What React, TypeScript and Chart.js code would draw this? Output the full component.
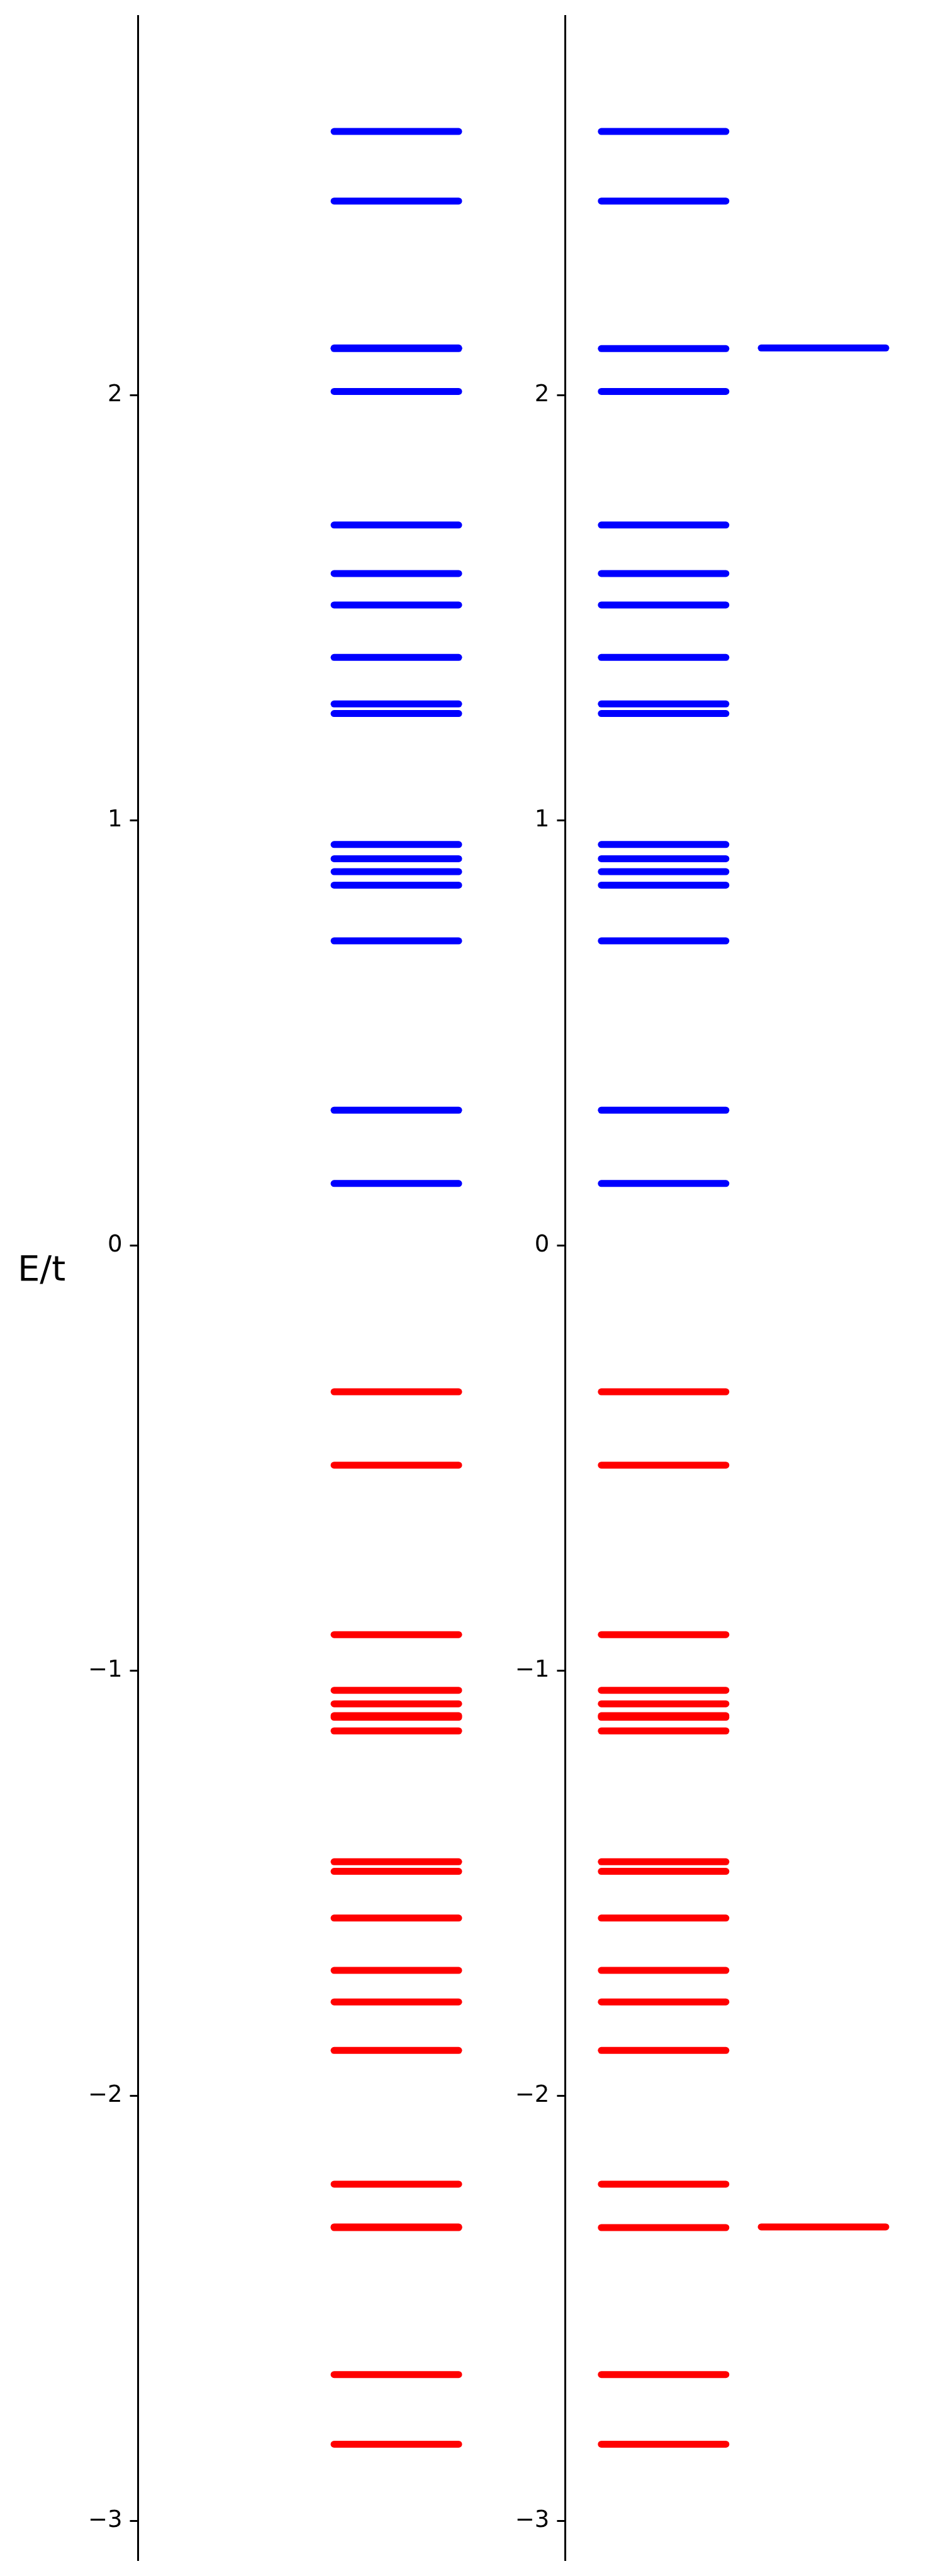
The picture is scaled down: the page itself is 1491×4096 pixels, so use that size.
import { useEffect, useRef } from "react";
import { Chart, registerables } from "chart.js";

Chart.register(...registerables);

// ---- Data: energy levels in units of t ----
// Left panel: full spectrum (upper levels blue, lower levels red)
const leftUpperLevels = [
  2.6198, 2.4562, 2.1106, 2.109, 2.0083, 1.6941, 1.58, 1.5061, 1.3827, 1.2733,
  1.2508, 0.9427, 0.9092, 0.8787, 0.8471, 0.716, 0.3178, 0.1453,
];
const leftLowerLevels = [
  -0.3446, -0.5171, -0.9158, -1.0466, -1.0785, -1.1064, -1.11, -1.1422, -1.45,
  -1.4726, -1.5823, -1.7055, -1.7797, -1.8937, -2.2082, -2.3089, -2.3104,
  -2.6561, -2.8199,
];
// Right panel, main column
const rightMainUpperLevels = [
  2.6198, 2.4562, 2.109, 2.0083, 1.6941, 1.58, 1.5061, 1.3827, 1.2733, 1.2508,
  0.9427, 0.9092, 0.8787, 0.8471, 0.716, 0.3178, 0.1453,
];
const rightMainLowerLevels = [
  -0.3446, -0.5171, -0.9158, -1.0466, -1.0785, -1.1064, -1.11, -1.1422, -1.45,
  -1.4726, -1.5823, -1.7055, -1.7797, -1.8937, -2.2082, -2.3104, -2.6561,
  -2.8199,
];
// Right panel, side column
const rightSideUpperLevels = [2.1106];
const rightSideLowerLevels = [-2.3089];

// Column positions (x categories) and ticks
const leftColumns = [2.1];
const rightColumns = [0.8, 2.1];
const xRange = [0, 3];
const yTickValues = [-3, -2, -1, 0, 1, 2];
const yAxisLabel = "E/t";

const UPPER_COLOR = "#0000ff";
const LOWER_COLOR = "#ff0000";
const FONT = "'DejaVu Sans', 'Liberation Sans', sans-serif";

const allLevels = [
  ...leftUpperLevels,
  ...leftLowerLevels,
  ...rightMainUpperLevels,
  ...rightMainLowerLevels,
  ...rightSideUpperLevels,
  ...rightSideLowerLevels,
];
const dataMax = Math.max(...allLevels);
const dataMin = Math.min(...allLevels);
const yMargin = (dataMax - dataMin) * 0.05;
const yMin = dataMin - yMargin;
const yMax = dataMax + yMargin;

Chart.defaults.font.family = FONT;

type Column = { x: number; levels: number[]; color: string };

const fmt = (v: number) => (v < 0 ? "\u2212" + Math.abs(v) : String(v));

function buildChart(
  canvas: HTMLCanvasElement,
  axisWidth: number,
  columns: Column[],
  withLabel: boolean
) {
  const datasets = columns.map((c) => ({
    data: c.levels.map((e) => ({ x: c.x, y: e })),
    pointStyle: "line" as const,
    pointRadius: 99,
    pointHoverRadius: 99,
    pointBorderWidth: 11,
    pointHoverBorderWidth: 11,
    pointBorderColor: c.color,
    pointBackgroundColor: c.color,
    borderColor: c.color,
    backgroundColor: c.color,
    showLine: false,
    clip: false as const,
  }));

  const capPlugin = {
    id: "roundCaps",
    beforeDatasetsDraw(chart: Chart) {
      chart.ctx.lineCap = "round";
    },
    afterDatasetsDraw(chart: Chart) {
      chart.ctx.lineCap = "butt";
    },
  };

  const labelPlugin = {
    id: "yLabel",
    afterDraw(chart: Chart) {
      if (!withLabel) return;
      const ctx = chart.ctx;
      ctx.save();
      ctx.fillStyle = "#000";
      ctx.font = `56px ${FONT}`;
      ctx.textAlign = "center";
      ctx.textBaseline = "alphabetic";
      ctx.fillText(yAxisLabel, 66, 2036);
      ctx.restore();
    },
  };

  return new Chart(canvas, {
    type: "scatter",
    data: { datasets },
    options: {
      animation: false,
      responsive: false,
      devicePixelRatio: 1,
      events: [],
      layout: {
        autoPadding: false,
        padding: { top: 25.16, bottom: 25.7, left: 0, right: 0 },
      },
      plugins: {
        legend: { display: false },
        tooltip: { enabled: false },
      },
      scales: {
        x: {
          type: "linear",
          min: xRange[0],
          max: xRange[1],
          display: false,
        },
        y: {
          type: "linear",
          min: yMin,
          max: yMax,
          afterFit(scale: any) {
            scale.width = axisWidth;
            scale.paddingTop = 0;
            scale.paddingBottom = 0;
          },
          afterBuildTicks(scale: any) {
            scale.ticks = yTickValues.map((v) => ({ value: v }));
          },
          grid: {
            drawOnChartArea: false,
            drawTicks: true,
            tickLength: 13,
            tickWidth: 3,
            tickColor: "#000",
            color: "#000",
            lineWidth: 3,
          },
          border: { display: true, color: "#000", width: 3 },
          ticks: {
            color: "#000",
            padding: 12,
            font: { family: FONT, size: 37 },
            callback: (v: any) => fmt(Number(v)),
          },
        },
      },
    },
    plugins: [capPlugin, labelPlugin],
  });
}

export default function App() {
  const leftRef = useRef<HTMLCanvasElement>(null);
  const rightRef = useRef<HTMLCanvasElement>(null);

  useEffect(() => {
    const charts = [
      buildChart(
        leftRef.current!,
        219.5,
        [
          { x: leftColumns[0], levels: leftUpperLevels, color: UPPER_COLOR },
          { x: leftColumns[0], levels: leftLowerLevels, color: LOWER_COLOR },
        ],
        true
      ),
      buildChart(
        rightRef.current!,
        219.4,
        [
          { x: rightColumns[0], levels: rightMainUpperLevels, color: UPPER_COLOR },
          { x: rightColumns[0], levels: rightMainLowerLevels, color: LOWER_COLOR },
          { x: rightColumns[1], levels: rightSideUpperLevels, color: UPPER_COLOR },
          { x: rightColumns[1], levels: rightSideLowerLevels, color: LOWER_COLOR },
        ],
        false
      ),
    ];
    return () => charts.forEach((c) => c.destroy());
  }, []);

  return (
    <div
      style={{
        position: "absolute",
        left: 0,
        top: 0,
        width: 1491,
        height: 4096,
        background: "#fff",
        overflow: "hidden",
      }}
    >
      <canvas
        ref={leftRef}
        width={806}
        height={4096}
        style={{ position: "absolute", left: 0, top: 0 }}
      />
      <canvas
        ref={rightRef}
        width={806}
        height={4096}
        style={{ position: "absolute", left: 679, top: 0 }}
      />
    </div>
  );
}
